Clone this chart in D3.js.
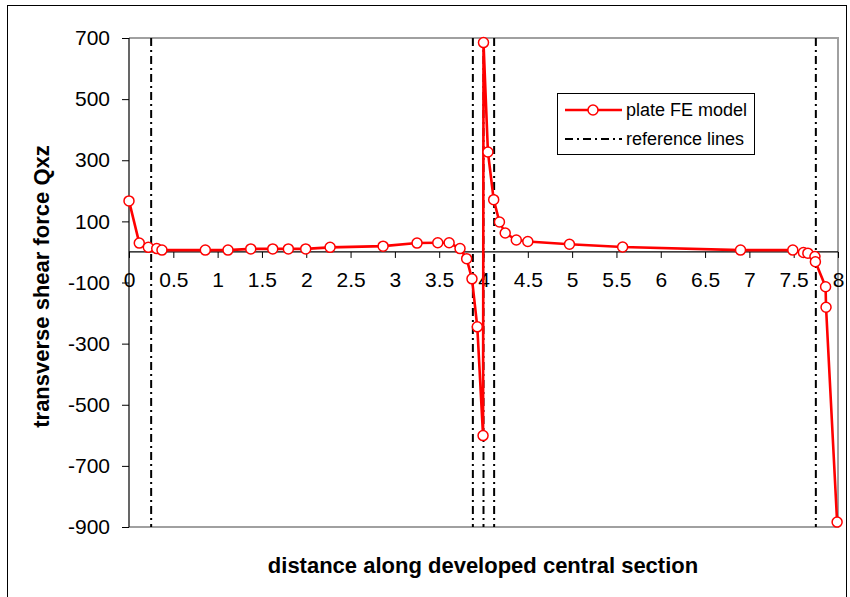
<!DOCTYPE html>
<html>
<head>
<meta charset="utf-8">
<script src="https://cdn.jsdelivr.net/npm/d3@7"></script>
<style>
  html, body { margin: 0; padding: 0; background: #fff; }
  svg { display: block; font-family: "Liberation Sans", Arial, sans-serif; }
</style>
</head>
<body>
<div id="chart"></div>
<script>
// ---- data ----
const distance = [0, 0.116, 0.218, 0.313, 0.372, 0.861, 1.117, 1.374, 1.622, 1.798, 1.994, 2.269, 2.867, 3.25, 3.484, 3.612, 3.735, 3.81, 3.87, 3.93, 3.995, 4.0, 4.05, 4.115, 4.18, 4.245, 4.37, 4.5, 4.97, 5.57, 6.9, 7.49, 7.61, 7.66, 7.74, 7.745, 7.86, 7.865, 7.99];
const shearQxz = [167, 29, 15, 11, 6, 6, 6, 10, 10, 10, 10, 15, 19, 29, 30, 30, 11, -22, -88, -245, -601, 685, 327, 171, 98, 62, 39, 34, 25, 16, 6, 6, -2, -4, -15, -32, -114, -181, -884];
const referenceX = [0.25, 3.88, 4.0, 4.12, 7.75];
const xTicks = [0, 0.5, 1, 1.5, 2, 2.5, 3, 3.5, 4, 4.5, 5, 5.5, 6, 6.5, 7, 7.5, 8];
const yTicks = [700, 500, 300, 100, -100, -300, -500, -700, -900];
const legendLabels = ["plate FE model", "reference lines"];
const xTitle = "distance along developed central section";
const yTitle = "transverse shear force Qxz";

// ---- layout ----
const W = 850, H = 597;
const plot = { left: 129, right: 838, top: 38, bottom: 527 };

const svg = d3.select("#chart").append("svg").attr("width", W).attr("height", H);

// outer border
svg.append("rect").attr("x", 7.5).attr("y", 5.5).attr("width", 839).attr("height", 600)
  .attr("fill", "none").attr("stroke", "#000").attr("stroke-width", 1);

const x = d3.scaleLinear().domain([0, 8]).range([plot.left, plot.right]);
const y = d3.scaleLinear().domain([-900, 700]).range([plot.bottom, plot.top]);

// plot frame (top, right, bottom gray)
svg.append("path")
  .attr("d", `M${plot.left},${plot.top}H${plot.right}V${plot.bottom}H${plot.left}`)
  .attr("fill", "none").attr("stroke", "#a0a0a0").attr("stroke-width", 2);

const tickFont = 21;

// y axis
const yAxis = d3.axisLeft(y).tickValues(yTicks).tickSize(7).tickPadding(12).tickFormat(d => String(d));
const gy = svg.append("g").attr("transform", `translate(${plot.left},0)`).call(yAxis);
gy.select(".domain").remove();
gy.append("line").attr("x1", 0).attr("x2", 0).attr("y1", plot.top).attr("y2", plot.bottom)
  .attr("stroke", "#000").attr("stroke-width", 1.2);
gy.selectAll(".tick line").attr("stroke", "#000").attr("stroke-width", 1);
gy.selectAll(".tick text").attr("font-size", tickFont).attr("fill", "#000")
  .style("font-family", "'Liberation Sans', Arial, sans-serif");

// x axis at zero
const xAxis = d3.axisBottom(x).tickValues(xTicks).tickSize(6).tickPadding(14)
  .tickFormat(d => String(d));
const gx = svg.append("g").attr("transform", `translate(0,${y(0)})`).call(xAxis);
gx.select(".domain").remove();
gx.append("line").attr("x1", plot.left).attr("x2", plot.right).attr("y1", 0).attr("y2", 0)
  .attr("stroke", "#000").attr("stroke-width", 1.2);
gx.selectAll(".tick line").attr("stroke", "#000").attr("stroke-width", 1);
gx.selectAll(".tick text").attr("font-size", tickFont).attr("fill", "#000")
  .style("font-family", "'Liberation Sans', Arial, sans-serif");

// reference lines
const dash = "8,4,2,4";
svg.append("g").selectAll("line").data(referenceX).join("line")
  .attr("x1", d => x(d)).attr("x2", d => x(d))
  .attr("y1", plot.top).attr("y2", plot.bottom)
  .attr("stroke", "#000").attr("stroke-width", 2).attr("stroke-dasharray", dash);

// series
const pts = distance.map((d, i) => [d, shearQxz[i]]);
svg.append("path").datum(pts)
  .attr("d", d3.line().x(d => x(d[0])).y(d => y(d[1])))
  .attr("fill", "none").attr("stroke", "#ff0000").attr("stroke-width", 2.6)
  .attr("stroke-linejoin", "round");
svg.append("g").selectAll("circle").data(pts).join("circle")
  .attr("cx", d => x(d[0])).attr("cy", d => y(d[1])).attr("r", 5)
  .attr("fill", "#fff").attr("stroke", "#ff0000").attr("stroke-width", 1.5);

// legend
const lg = svg.append("g").attr("transform", "translate(557,93)");
lg.append("rect").attr("x", 0.5).attr("y", 0.5).attr("width", 197).attr("height", 61)
  .attr("fill", "#fff").attr("stroke", "#000").attr("stroke-width", 1);
const rows = [17, 46];
lg.append("line").attr("x1", 8).attr("x2", 65).attr("y1", rows[0]).attr("y2", rows[0])
  .attr("stroke", "#ff0000").attr("stroke-width", 2.6);
lg.append("circle").attr("cx", 36).attr("cy", rows[0]).attr("r", 5)
  .attr("fill", "#fff").attr("stroke", "#ff0000").attr("stroke-width", 1.5);
lg.append("line").attr("x1", 8).attr("x2", 65).attr("y1", rows[1]).attr("y2", rows[1])
  .attr("stroke", "#000").attr("stroke-width", 2).attr("stroke-dasharray", dash);
lg.selectAll("text").data(legendLabels).join("text")
  .attr("x", 69).attr("y", (d, i) => rows[i]).attr("dy", "0.35em")
  .attr("font-size", 18).attr("fill", "#000").text(d => d);

// axis titles
svg.append("text").attr("x", 483).attr("y", 573)
  .attr("text-anchor", "middle").attr("font-size", 22).attr("font-weight", "bold")
  .text(xTitle);
svg.append("text").attr("transform", `translate(49,${(plot.top + plot.bottom) / 2 + 4}) rotate(-90)`)
  .attr("text-anchor", "middle").attr("font-size", 22).attr("font-weight", "bold")
  .text(yTitle);
</script>
</body>
</html>
